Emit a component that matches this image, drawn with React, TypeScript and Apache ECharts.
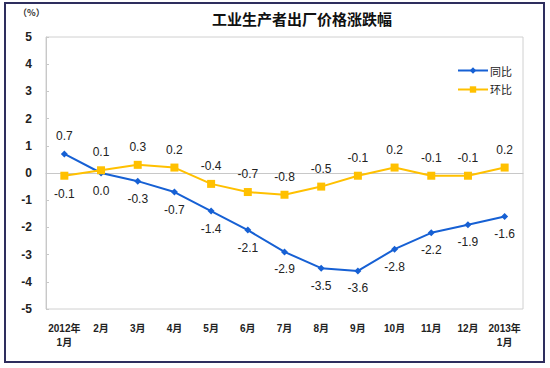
import React, { useEffect, useRef } from "react";
import * as echarts from "echarts";

const categories = ["2012年\n1月", "2月", "3月", "4月", "5月", "6月", "7月", "8月", "9月", "10月", "11月", "12月", "2013年\n1月"];
const yoy = [0.7, 0.0, -0.3, -0.7, -1.4, -2.1, -2.9, -3.5, -3.6, -2.8, -2.2, -1.9, -1.6];
const mom = [-0.1, 0.1, 0.3, 0.2, -0.4, -0.7, -0.8, -0.5, -0.1, 0.2, -0.1, -0.1, 0.2];
const yoyAbove = [0];
const momBelow = [0];

const FONT = "'Liberation Sans', Arial, 'Noto Sans CJK SC', sans-serif";

export default function App() {
  const ref = useRef<HTMLDivElement>(null);
  useEffect(() => {
    const chart = echarts.init(ref.current!, undefined, { renderer: "svg" });
    const lbl = (pos: string) => ({
      show: true,
      position: pos,
      distance: 8,
      fontSize: 12,
      color: "#222",
      fontFamily: FONT,
      formatter: (p: any) => Number(p.value).toFixed(1),
    });
    chart.setOption({
      animation: false,
      textStyle: { fontFamily: FONT },
      title: {
        text: "工业生产者出厂价格涨跌幅",
        left: 207,
        top: 6,
        textStyle: { fontSize: 15, fontWeight: "bold", color: "#111", fontFamily: "'Noto Sans CJK SC', sans-serif" },
      },
      graphic: [
        {
          type: "rect",
          shape: { x: 5, y: 3, width: 539, height: 359 },
          style: { fill: "none", stroke: "#2e2e5e", lineWidth: 2 },
          silent: true,
        },
        {
          type: "text",
          left: 18,
          top: 8,
          style: { text: "（%）", fontSize: 9, fontWeight: "bold", fill: "#333", fontFamily: "'Noto Sans CJK SC', sans-serif" },
        },
      ],
      legend: {
        orient: "vertical",
        left: 452,
        top: 60,
        itemWidth: 30,
        itemHeight: 8,
        itemGap: 8,
        textStyle: { fontSize: 11, color: "#222", fontFamily: "'Noto Sans CJK SC', sans-serif", padding: [0, 0, 0, -3] },
        data: ["同比", "环比"],
      },
      grid: {
        left: 46,
        right: 27,
        top: 37,
        bottom: 59,
        show: true,
        borderColor: "#d0d0d0",
        borderWidth: 1,
      },
      xAxis: {
        type: "category",
        data: categories,
        boundaryGap: true,
        axisLine: { lineStyle: { color: "#c8c8c8" } },
        axisTick: { inside: true, length: 3, lineStyle: { color: "#c8c8c8" } },
        axisLabel: {
          fontSize: 10,
          fontWeight: "bold",
          color: "#222",
          margin: 12,
          lineHeight: 14,
          interval: 0,
          fontFamily: FONT,
        },
        splitLine: { show: false },
      },
      yAxis: {
        type: "value",
        min: -5,
        max: 5,
        interval: 1,
        axisLine: { show: true, lineStyle: { color: "#c8c8c8" } },
        axisTick: { show: true, inside: true, length: 3, lineStyle: { color: "#c8c8c8" } },
        axisLabel: { fontSize: 12, fontWeight: "bold", color: "#222", margin: 14, fontFamily: FONT },
        splitLine: { show: false },
      },
      series: [
        {
          name: "同比",
          type: "line",
          data: yoy.map((v, i) => ({ value: v, label: lbl(yoyAbove.includes(i) ? "top" : "bottom") })),
          symbol: "diamond",
          symbolSize: 7,
          itemStyle: { color: "#1660d4" },
          lineStyle: { color: "#1660d4", width: 2 },
        },
        {
          name: "环比",
          type: "line",
          data: mom.map((v, i) => ({ value: v, label: lbl(momBelow.includes(i) ? "bottom" : "top") })),
          symbol: "rect",
          symbolSize: 8,
          itemStyle: { color: "#FFC000" },
          lineStyle: { color: "#FFC000", width: 2 },
        },
      ],
    });
    return () => chart.dispose();
  }, []);
  return <div ref={ref} style={{ width: 550, height: 368, position: "absolute", left: 0, top: 0 }} />;
}
